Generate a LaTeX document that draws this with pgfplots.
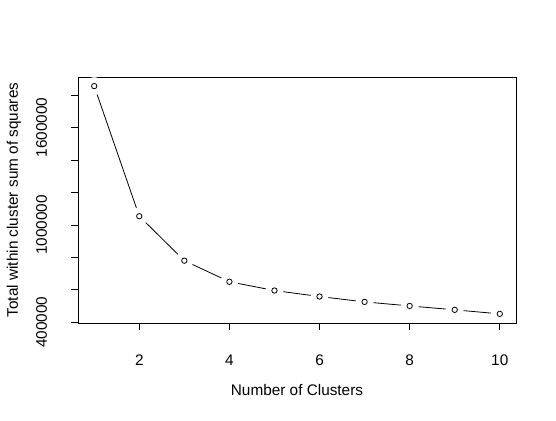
\documentclass[border=0pt]{standalone}
\usepackage{pgfplots}
\pgfplotsset{compat=1.18}
\usepackage{fontspec}
\setmainfont{Liberation Sans}
\begin{document}
\begin{tikzpicture}
\useasboundingbox (-78bp,-98bp) rectangle (478bp,323bp);
\begin{axis}[
  at={(0,0)}, anchor=south west,
  width=438bp, height=246bp, scale only axis,
  xmin=0.64, xmax=10.36, ymin=395840, ymax=1912000,
  axis on top,
  scaled y ticks=false, scaled x ticks=false,
  axis line style={line width=0.8bp},
  tick style={line width=0.8bp, black},
  tick align=outside, major tick length=7bp,
  xtick={2,4,6,8,10}, xticklabels={2,4,6,8,10},
  ytick={400000,600000,800000,1000000,1200000,1400000,1600000,1800000},
  yticklabels={400000,{},{},1000000,{},{},1600000,{}},
  xtick pos=bottom, ytick pos=left,
  tick label style={font=\fontsize{15.4}{17}\selectfont},
  label style={font=\fontsize{15.4}{17}\selectfont},
  xticklabel style={anchor=base, yshift=-35bp},
  yticklabel style={xshift=-24bp, rotate=90, anchor=base},
  /pgf/number format/assume math mode=true,
  xlabel={Number of Clusters},
  ylabel={Total within cluster sum of squares},
  xlabel style={at={([yshift=-67bp]axis description cs:0.5,0)}, anchor=center},
  ylabel style={at={([xshift=-64bp]axis description cs:0,0.5)}, anchor=center},
]
\addplot[black, line width=0.8bp, mark=none] coordinates {
(1,1856000) (2,1054000) (3,780000) (4,650000) (5,596000) (6,559000) (7,526000) (8,501000) (9,477000) (10,452000)};
\addplot[white, only marks, mark=*, mark size=8.7bp, mark options={fill=white, draw=white}] coordinates {
(1,1856000) (2,1054000) (3,780000) (4,650000) (5,596000) (6,559000) (7,526000) (8,501000) (9,477000) (10,452000)};
\addplot[black, only marks, mark=o, mark size=2.7bp, mark options={draw=black, line width=0.8bp}] coordinates {
(1,1856000) (2,1054000) (3,780000) (4,650000) (5,596000) (6,559000) (7,526000) (8,501000) (9,477000) (10,452000)};
\end{axis}
\end{tikzpicture}
\end{document}
